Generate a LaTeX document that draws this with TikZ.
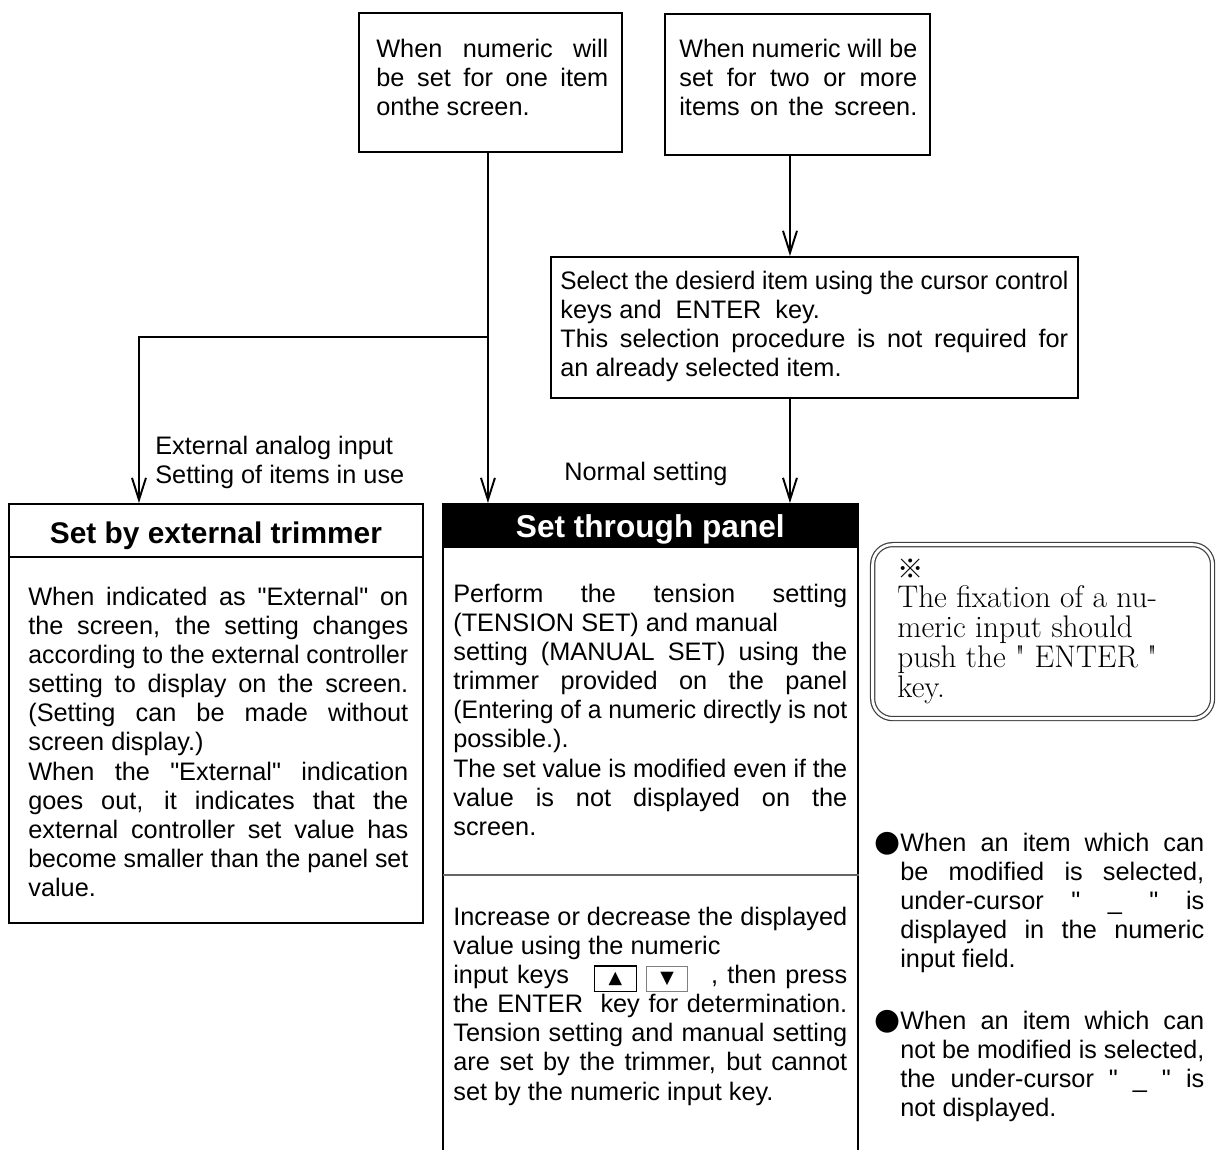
\documentclass[tikz,border=0pt]{standalone}
\usepackage{graphicx}
\usepackage{fontspec}
\newfontfamily\arial{Liberation Sans}
\newfontfamily\lmserif{Latin Modern Roman}
\newfontfamily\symfont{DejaVu Sans}
\newfontfamily\cjkfont{Noto Sans CJK JP}
\usetikzlibrary{arrows.meta,positioning}
\tikzset{
  >={Straight Barb[length=4.4mm,width=2.8mm]},
  frame/.style={draw,line width=1.1pt,anchor=north west,inner sep=0pt},
  txt/.style={anchor=base west,inner sep=0pt,align=flush left,
    font=\arial\fontsize{14.4}{16.6}\selectfont},
  head/.style={anchor=base,inner sep=0pt,font=\arial\bfseries\fontsize{17}{20}\selectfont},
  link/.style={->,line width=1.1pt},
  dot/.style={anchor=base west,inner sep=0pt,font=\symfont\fontsize{17}{17}\selectfont},
}
% justified line: stretch the spaces, or squeeze the line when it is too long
\newsavebox\jbox
\newcommand\jline[1]{{\spaceskip=0pt\xspaceskip=0pt\sbox\jbox{#1}%
  \ifdim\wd\jbox>\linewidth\resizebox{\linewidth}{\height}{\usebox\jbox}%
  \else\makebox[\linewidth][s]{#1}\fi}}
\newcommand\keycap[3]{{\setlength\fboxrule{#2}\setlength\fboxsep{3pt}%
  \fcolorbox{#1}{white}{\makebox[17pt]{\symfont\fontsize{10}{12}\selectfont #3}}}}

\begin{document}
\begin{tikzpicture}[x=0.02cm,y=-0.02cm]
  \useasboundingbox (0,0) rectangle (1216,1150);
  % starting cases
  \node[frame,minimum width=5.26cm,minimum height=2.78cm] (one) at (358,12) {};
  \node[txt,text width=4.64cm] (one-t) at (376,57)
    {\jline{When numeric will}\\\jline{be set for one item}\\onthe screen.};
  \node[frame,minimum width=5.30cm,minimum height=2.82cm] (two) at (664,13) {};
  \node[txt,text width=4.76cm] (two-t) at (679,57)
    {\jline{When numeric will be}\\\jline{set for two or more}\\\jline{items on the screen.}};
  \node[frame,minimum width=10.54cm,minimum height=2.82cm] (sel) at (550,256) {};
  \node[txt,text width=10.16cm] (sel-t) at (560,289)
    {\jline{Select the desierd item using the cursor control}\\
     keys and \ ENTER \ key.\\
     \jline{This selection procedure is not required for}\\
     an already selected item.};

  % setting modes
  \node[frame,minimum width=8.28cm,minimum height=8.38cm] (ext) at (8,503) {};
  \node[head] (ext-head) at ([yshift=-0.8cm]ext.north) {Set by external trimmer};
  \draw[line width=1.1pt] ([yshift=-1.08cm]ext.north west) -- ([yshift=-1.08cm]ext.north east);
  \node[txt,text width=7.6cm] (ext-t) at (28,605)
    {\jline{When indicated as "External" on}\\
     \jline{the screen, the setting changes}\\
     \jline{according to the external controller}\\
     \jline{setting to display on the screen.}\\
     \jline{(Setting can be made without}\\
     screen display.)\\
     \jline{When the "External" indication}\\
     \jline{goes out, it indicates that the}\\
     \jline{external controller set value has}\\
     \jline{become smaller than the panel set}\\
     value.};

  \node[fill=black,text=white,minimum width=8.28cm,minimum height=0.9cm,anchor=north west,
    inner sep=0pt,text height=13.5pt,text depth=0pt,
    font=\arial\bfseries\fontsize{18}{20}\selectfont] (panel) at (443,503) {Set through panel};
  \draw[line width=1.1pt] (panel.north west) -- (panel.north west |- 0,1150);
  \draw[line width=1.1pt] (panel.north east) -- (panel.north east |- 0,1150);
  \draw[black!60,line width=0.6pt] (panel.west |- 0,875) -- (859,875);
  \node[txt,text width=7.88cm] (panel-t) at (453,602)
    {\jline{Perform the tension setting}\\
     (TENSION SET) and manual\\
     \jline{setting (MANUAL SET) using the}\\
     \jline{trimmer provided on the panel}\\
     \jline{(Entering of a numeric directly is not}\\
     possible.).\\
     \jline{The set value is modified even if the}\\
     \jline{value is not displayed on the}\\
     screen.};
  \node[txt,text width=7.88cm] (keys-t) at (453,925)
    {\jline{Increase or decrease the displayed}\\
     value using the numeric\\
     \jline{input keys\hspace{14pt}\keycap{black}{0.9pt}{▲}\hspace{5pt}\keycap{black!50}{0.5pt}{▼}\hspace{13pt}, then press}\\
     \jline{the ENTER \ key for determination.}\\
     \jline{Tension setting and manual setting}\\
     \jline{are set by the trimmer, but cannot}\\
     set by the numeric input key.};

  % labels
  \node[txt,text width=6cm] (ext-lbl) at (155,454) {External analog input\\Setting of items in use};
  \node[txt] (normal-lbl) at (564,480) {Normal setting};

  % note
  \node[draw=black!75,double,double distance=1.6pt,line width=0.7pt,rounded corners=0.4cm,
    minimum width=6.80cm,minimum height=3.48cm,anchor=north west] (note) at (872,544) {};
  \node[anchor=base west,inner sep=0pt,align=flush left,text width=6.2cm,
    font=\lmserif\fontsize{17.8}{17}\selectfont] (note-t) at (897,578)
    {{\cjkfont\fontsize{15}{15}\selectfont ※}\\The fixation of a nu-\\meric input should\\push the " ENTER "\\key.};

  % remarks
  \node[dot] (dot1) at (874,851) {●};
  \node[txt,text width=6.08cm] (rem1) at (900,851)
    {\jline{When an item which can}\\
     \jline{be modified is selected,}\\
     \jline{under-cursor " \_ " is}\\
     \jline{displayed in the numeric}\\
     input field.};
  \node[dot] (dot2) at (874,1029) {●};
  \node[txt,text width=6.08cm] (rem2) at (900,1029)
    {\jline{When an item which can}\\
     \jline{not be modified is selected,}\\
     \jline{the under-cursor " \_ " is}\\
     not displayed.};

  % connectors
  \coordinate (drop1) at ([xshift=-0.05cm]one.south);
  \coordinate (split) at (drop1 |- 0,337);
  \coordinate (extin) at ([xshift=2.62cm]ext.north west);
  \coordinate (drop2) at ([xshift=2.52cm]two.south west);
  \coordinate (drop3) at ([xshift=4.8cm]sel.south west);
  \draw[link] (drop1) -- (drop1 |- panel.north);
  \draw[link] (split) -| (extin);
  \draw[link] (drop2) -- (drop2 |- sel.north);
  \draw[link] (drop3) -- (drop3 |- panel.north);
\end{tikzpicture}
\end{document}
